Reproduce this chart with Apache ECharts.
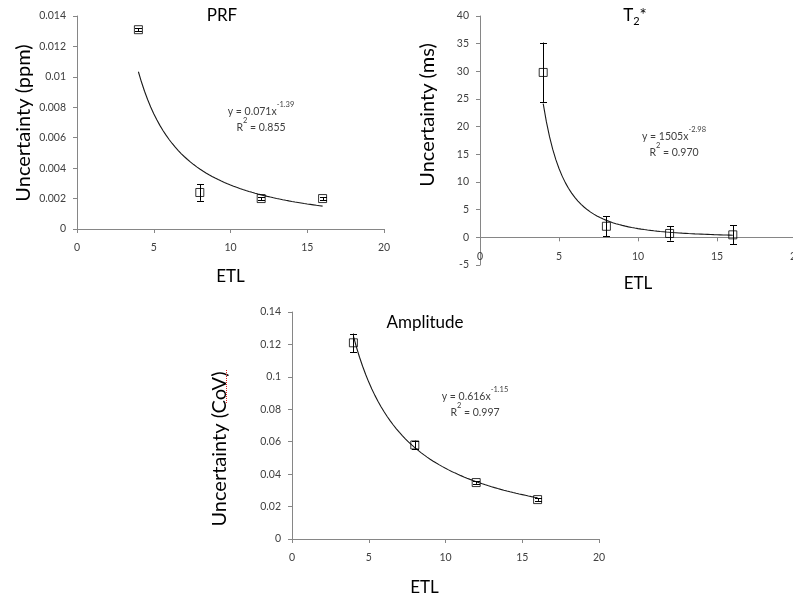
<!DOCTYPE html>
<html>
<head>
<meta charset="utf-8">
<title>Uncertainty vs ETL</title>
<script src="https://cdn.jsdelivr.net/npm/echarts@6/dist/echarts.min.js"></script>
<style>
  html, body { margin: 0; padding: 0; background: #fff; }
  #chart { width: 793px; height: 598px; }
</style>
</head>
<body>
<div id="chart"></div>
<script>
// Echo train lengths shared by all three panels
const etl = [4, 8, 12, 16];

// PRF uncertainty (ppm) and error half-widths
const prfValues = [0.0131, 0.0024, 0.0020, 0.0020];
const prfErrors = [0.0001, 0.00055, 0.0001, 0.0001];
// Power-law fit y = a * x^b, as annotated
const prfFit = [0.071, -1.39];

// T2* uncertainty (ms)
const t2Values = [29.8, 2.0, 0.7, 0.45];
const t2Errors = [5.4, 1.8, 1.3, 1.7];
const t2Fit = [1505, -2.98];

// Amplitude uncertainty (CoV)
const ampValues = [0.121, 0.058, 0.0348, 0.0243];
const ampErrors = [0.0057, 0.0027, 0.0008, 0.0008];
const ampFit = [0.616, -1.15];

// Axis ranges: [min, max, interval]
const etlRange = [0, 20, 5];
const prfRange = [0, 0.014, 0.002];
const t2Range = [-5, 40, 5];
const ampRange = [0, 0.14, 0.02];

// Trend line drawn from the annotated fit, over the measured ETL span
function fitCurve(coef) {
  const pts = [];
  for (let x = etl[0]; x <= etl[etl.length - 1] + 1e-9; x += 0.2) {
    pts.push([x, coef[0] * Math.pow(x, coef[1])]);
  }
  return pts;
}

function withErrors(vals, errs) {
  return etl.map((x, i) => [x, vals[i], errs[i]]);
}

function errorBarItem(params, api) {
  const x = api.value(0), y = api.value(1), e = api.value(2);
  const hi = api.coord([x, y + e]);
  const lo = api.coord([x, y - e]);
  const cx = Math.round(hi[0]) + 0.5;
  const w = 3.5;
  const st = { stroke: '#000', lineWidth: 1 };
  return {
    type: 'group',
    children: [
      { type: 'line', shape: { x1: cx, y1: hi[1], x2: cx, y2: lo[1] }, style: st },
      { type: 'line', shape: { x1: cx - w, y1: Math.round(hi[1]) + 0.5, x2: cx + w, y2: Math.round(hi[1]) + 0.5 }, style: st },
      { type: 'line', shape: { x1: cx - w, y1: Math.round(lo[1]) + 0.5, x2: cx + w, y2: Math.round(lo[1]) + 0.5 }, style: st }
    ]
  };
}

const FONT = 'Lato, "Noto Sans", sans-serif';
const axisGray = '#868686';
const labelColor = '#404040';

function xAxisDef(gridIndex, nameGap, namePadding, labelMargin) {
  return {
    type: 'value', gridIndex,
    min: etlRange[0], max: etlRange[1], interval: etlRange[2],
    name: 'ETL', nameLocation: 'middle', nameGap, nameMoveOverlap: false,
    nameTextStyle: { fontFamily: FONT, fontSize: 17, color: '#000', padding: namePadding },
    axisLine: { onZero: true, lineStyle: { color: axisGray } },
    axisTick: { show: true, length: 4, lineStyle: { color: axisGray } },
    axisLabel: { fontFamily: FONT, fontSize: 10.5, color: labelColor, margin: labelMargin },
    splitLine: { show: false }
  };
}

function yAxisDef(gridIndex, range) {
  return {
    type: 'value', gridIndex,
    min: range[0], max: range[1], interval: range[2],
    axisLine: { show: true, onZero: false, lineStyle: { color: axisGray } },
    axisTick: { show: true, length: 4, lineStyle: { color: axisGray } },
    axisLabel: { fontFamily: FONT, fontSize: 10.5, color: labelColor, margin: 11 },
    splitLine: { show: false }
  };
}

function panelSeries(idx, vals, errs, coef) {
  return [
    {
      type: 'line', xAxisIndex: idx, yAxisIndex: idx,
      data: fitCurve(coef), showSymbol: false, smooth: false, silent: true,
      lineStyle: { color: '#1a1a1a', width: 1.1 }, z: 2
    },
    {
      type: 'custom', xAxisIndex: idx, yAxisIndex: idx,
      data: withErrors(vals, errs), renderItem: errorBarItem,
      encode: { x: 0, y: 1 }, silent: true, z: 3
    },
    {
      type: 'scatter', xAxisIndex: idx, yAxisIndex: idx,
      data: etl.map((x, i) => [x, vals[i]]),
      symbol: 'rect', symbolSize: 8, silent: true, z: 4,
      itemStyle: { color: 'rgba(255,255,255,0)', borderColor: '#000', borderWidth: 1 }
    }
  ];
}

const titleStyle = { fontFamily: FONT, fontSize: 17, fontWeight: 'normal', color: '#000', lineHeight: 22 };

// Fit equation and R² shown as a two-line annotation
const eqStyle = {
  fontFamily: FONT, fontSize: 10.5, fontWeight: 'normal', color: labelColor, lineHeight: 16,
  rich: {
    b: { fontFamily: FONT, fontSize: 10.5, color: labelColor, lineHeight: 16, verticalAlign: 'bottom' },
    sup: { fontFamily: FONT, fontSize: 7.5, color: labelColor, lineHeight: 6, verticalAlign: 'top' }
  }
};

function eqTitle(cx, top, coef, r2) {
  return {
    text: '{b|y = ' + coef[0] + 'x}{sup|' + coef[1].toFixed(2) + '}\n{b|R}{sup|2}{b| = ' + r2 + '}',
    left: cx, top, padding: 0, textAlign: 'center', textStyle: eqStyle
  };
}

function centeredText(x, y, text, extra) {
  return {
    type: 'text', x, y, silent: true,
    style: Object.assign({ text, align: 'center', verticalAlign: 'middle' }, extra)
  };
}

function yName(x, y, text) {
  const t = centeredText(x, y, text, { fontFamily: FONT, fontSize: 20, fill: '#000' });
  t.rotation = Math.PI / 2;
  return t;
}

const chart = echarts.init(document.getElementById('chart'), null, { renderer: 'canvas' });

chart.setOption({
  backgroundColor: '#fff',
  animation: false,
  title: [
    { text: 'PRF', left: 222, top: 5, padding: 0, textAlign: 'center', textStyle: titleStyle },
    { text: '{b|T}{sub|2}{b|*}', left: 635, top: 5, padding: 0, textAlign: 'center',
      textStyle: Object.assign({}, titleStyle, {
        rich: {
          b: { fontFamily: FONT, fontSize: 17, color: '#000', lineHeight: 22, verticalAlign: 'middle' },
          sub: { fontFamily: FONT, fontSize: 11, color: '#000', lineHeight: 8, verticalAlign: 'bottom' }
        }
      }) },
    { text: 'Amplitude', left: 425, top: 312, padding: 0, textAlign: 'center', textStyle: titleStyle },
    eqTitle(261, 101, prfFit, '0.855'),
    eqTitle(674, 126, t2Fit, '0.970'),
    eqTitle(475, 386, ampFit, '0.997')
  ],
  grid: [
    { left: 77, top: 16, width: 307, height: 213, outerBoundsMode: 'none', containLabel: false },
    { left: 480, top: 16, width: 316, height: 249, outerBoundsMode: 'none', containLabel: false },
    { left: 292, top: 312, width: 307, height: 227, outerBoundsMode: 'none', containLabel: false }
  ],
  xAxis: [
    xAxisDef(0, 39, 0, 13),
    xAxisDef(1, 10, 0, -14),
    xAxisDef(2, 40, [0, 42, 0, 0], 13)
  ],
  yAxis: [
    yAxisDef(0, prfRange),
    yAxisDef(1, t2Range),
    yAxisDef(2, ampRange)
  ],
  series: [
    ...panelSeries(0, prfValues, prfErrors, prfFit),
    ...panelSeries(1, t2Values, t2Errors, t2Fit),
    ...panelSeries(2, ampValues, ampErrors, ampFit)
  ],
  graphic: [
    yName(24, 123, 'Uncertainty (ppm)'),
    yName(428, 115, 'Uncertainty (ms)'),
    yName(220, 449, 'Uncertainty (CoV)'),
    // spell-check underline beside "CoV"
    { type: 'line', silent: true,
      shape: { x1: 226.5, y1: 370, x2: 226.5, y2: 403 },
      style: { stroke: '#e02020', lineWidth: 1, lineDash: [1, 1] } }
  ]
});
</script>
</body>
</html>
